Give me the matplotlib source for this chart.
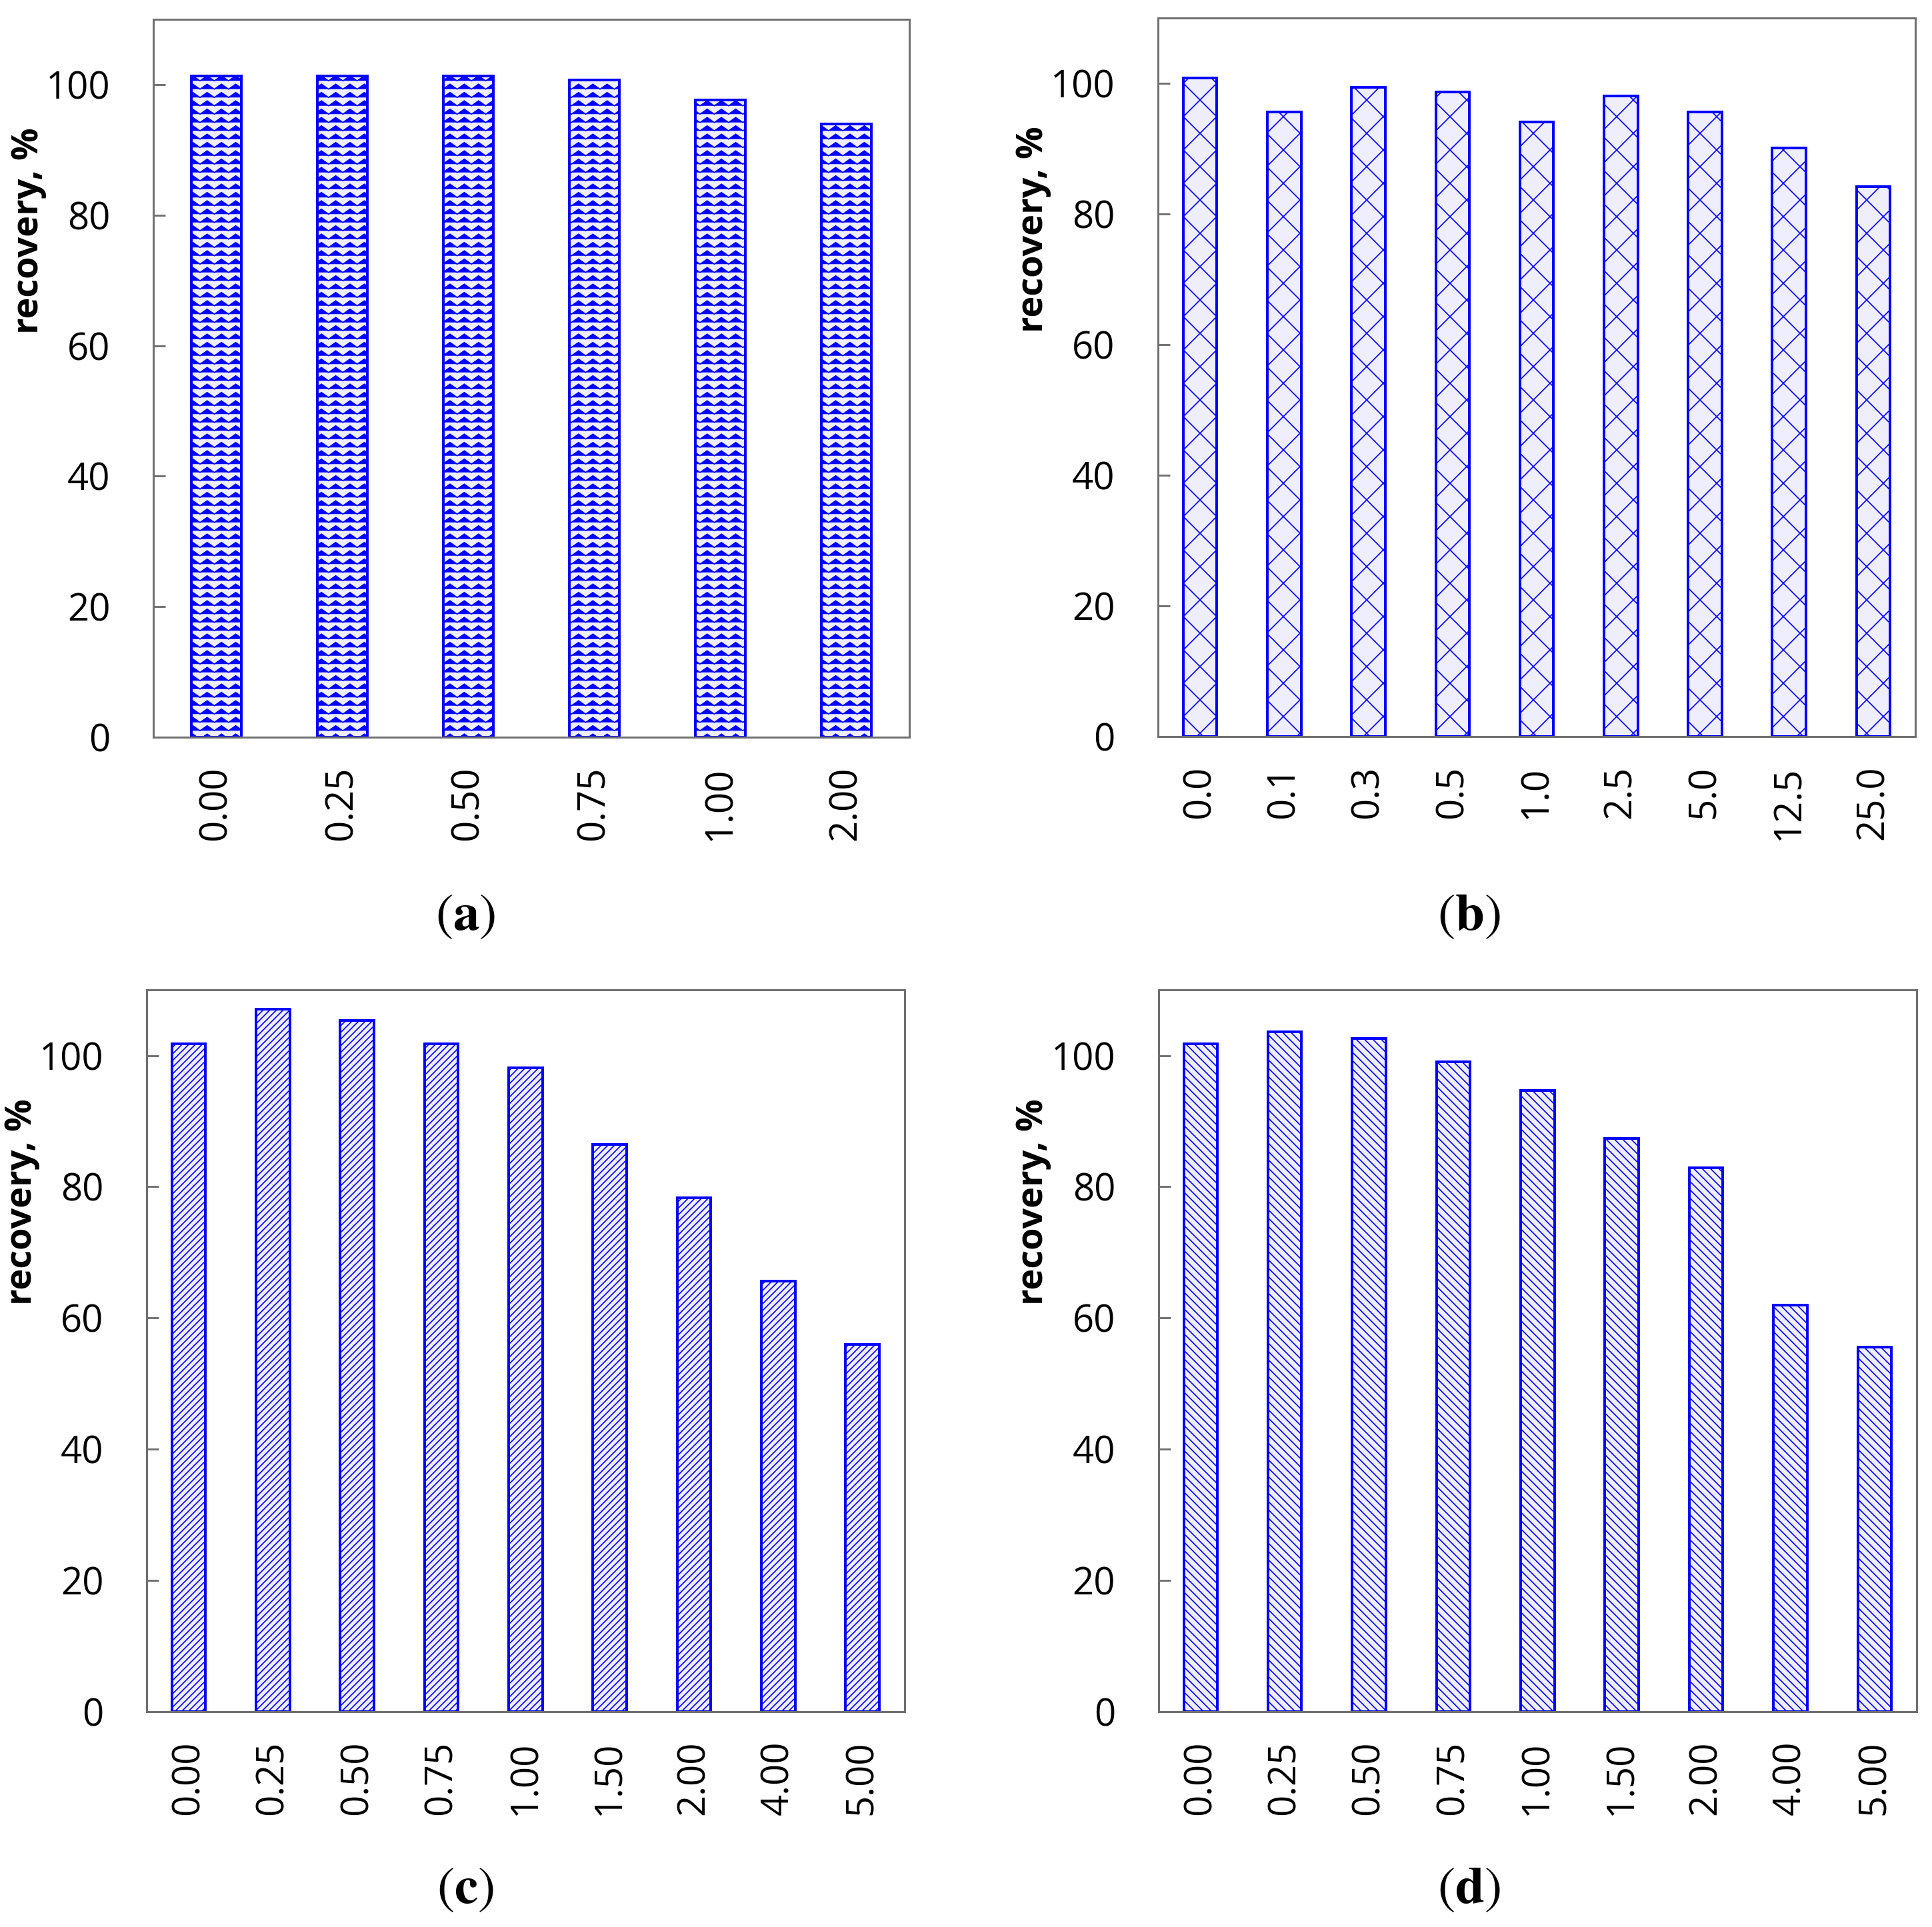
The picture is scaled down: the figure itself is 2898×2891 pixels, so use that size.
import warnings

warnings.filterwarnings("ignore")

import numpy as np
import matplotlib
matplotlib.use("Agg")
import matplotlib.pyplot as plt
from matplotlib import hatch as mhatch
from matplotlib.path import Path

# ============================================
# Data
# ============================================

a_labels = ["0.00", "0.25", "0.50", "0.75", "1.00", "2.00"]
a_values = [101.3, 101.3, 101.3, 100.7, 97.7, 94.0]

b_labels = ["0.0", "0.1", "0.3", "0.5", "1.0", "2.5", "5.0", "12.5", "25.0"]
b_values = [100.8, 95.6, 99.4, 98.7, 94.1, 98.1, 95.6, 90.1, 84.2]

c_labels = ["0.00", "0.25", "0.50", "0.75", "1.00", "1.50", "2.00", "4.00", "5.00"]
c_values = [101.8, 107.1, 105.3, 101.8, 98.1, 86.4, 78.3, 65.6, 56.0]

d_labels = ["0.00", "0.25", "0.50", "0.75", "1.00", "1.50", "2.00", "4.00", "5.00"]
d_values = [101.8, 103.6, 102.6, 99.0, 94.7, 87.4, 82.9, 62.0, 55.6]

panel_names = ["a", "b", "c", "d"]


# ============================================
# Zigzag hatch ('~') for panel (a)
# ============================================

class WaveHatch(mhatch.HatchPatternBase):
    teeth = 7

    def __init__(self, hatch, density):
        self.num_lines = int(hatch.count("~") * density)
        self.num_vertices = self.num_lines * (2 * self.teeth + 1)

    def set_vertices_and_codes(self, vertices, codes):
        n = 2 * self.teeth + 1
        xs = np.linspace(0.0, 1.0, n)
        amp = np.where(np.arange(n) % 2 == 1, 0.05, 0.0)
        for i in range(self.num_lines):
            y0 = (i + 0.3) / self.num_lines
            vertices[i * n:(i + 1) * n, 0] = xs
            vertices[i * n:(i + 1) * n, 1] = y0 + amp
            codes[i * n] = Path.MOVETO
            codes[i * n + 1:(i + 1) * n] = Path.LINETO


mhatch._hatch_types.append(WaveHatch)

plt.rcParams["font.family"] = ["Open Sans", "DejaVu Sans"]
plt.rcParams["mathtext.fontset"] = "stix"
plt.rcParams["hatch.linewidth"] = 0.8

fig = plt.figure(figsize=(2898 / 150, 2891 / 150), dpi=150)

# axes boxes in figure fractions
boxes = [
    [0.0794, 0.6174, 0.3913, 0.3725],
    [0.5994, 0.6178, 0.3920, 0.3729],
    [0.0759, 0.1117, 0.3923, 0.3746],
    [0.5996, 0.1117, 0.3925, 0.3746],
]
hatches = ["~~", "x", "/////", "\\\\\\\\"]
all_labels = [a_labels, b_labels, c_labels, d_labels]
all_values = [a_values, b_values, c_values, d_values]
letter_pos = [(0.2409, 0.5244), (0.7602, 0.5244), (0.2409, 0.0195), (0.7602, 0.0195)]

for box, labels, values, hatch, name, pos in zip(
    boxes, all_labels, all_values, hatches, panel_names, letter_pos
):
    ax = fig.add_axes(box)
    x = np.arange(len(labels))
    ax.bar(
        x, values, width=0.4,
        color="#eeeeff", edgecolor="blue", linewidth=1.9, hatch=hatch,
    )
    ax.set_xlim(-0.5, len(labels) - 0.5)
    ax.set_ylim(0, 110)
    ax.set_yticks([0, 20, 40, 60, 80, 100])
    ax.set_xticks(x)
    ax.set_xticklabels(labels, rotation=90)
    ax.tick_params(axis="y", direction="in", length=8.6, width=1.4,
                   color="#707070", pad=31, labelsize=27)
    ax.tick_params(axis="x", length=0, pad=21, labelsize=27)
    for spine in ax.spines.values():
        spine.set_color("#707070")
        spine.set_linewidth(1.45)
    ax.set_ylabel("recovery, %", fontsize=26, fontweight="bold")
    ax.yaxis.set_label_coords(-0.141, 0.706)
    fig.text(pos[0], pos[1], r"$(\mathbf{" + name + r"})$",
             ha="center", va="center", fontsize=38)

fig.savefig("out.png", dpi=150)
